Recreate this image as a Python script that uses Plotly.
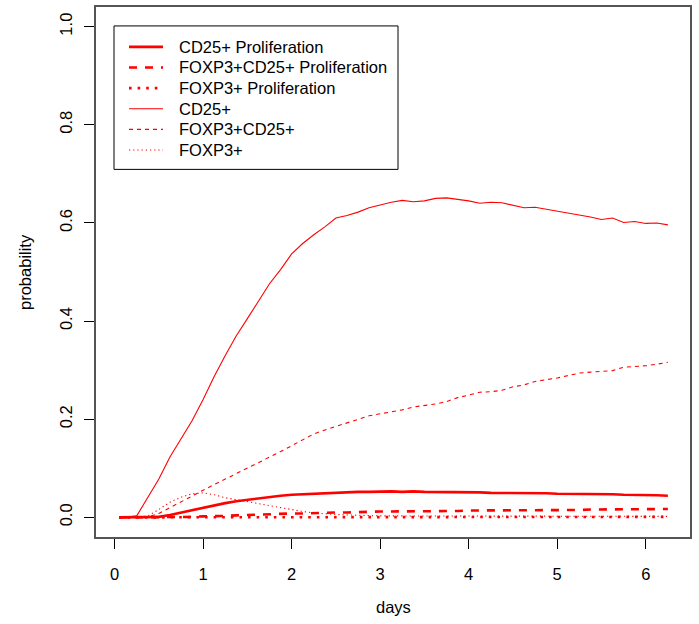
import plotly.graph_objects as go

days = [0.05, 0.125, 0.25, 0.375, 0.5, 0.625, 0.75, 0.875, 1.0, 1.125, 1.25, 1.375, 1.5,
        1.625, 1.75, 1.875, 2.0, 2.125, 2.25, 2.375, 2.5, 2.625, 2.75, 2.875, 3.0,
        3.125, 3.25, 3.375, 3.5, 3.625, 3.75, 3.875, 4.0, 4.125, 4.25, 4.375, 4.5,
        4.625, 4.75, 4.875, 5.0, 5.125, 5.25, 5.375, 5.5, 5.625, 5.75, 5.875, 6.0,
        6.125, 6.25]

cd25_prolif = [0, 0, 0, 0, 0.001, 0.005, 0.010, 0.015, 0.020, 0.024, 0.029, 0.033, 0.036,
               0.039, 0.041, 0.044, 0.046, 0.047, 0.048, 0.049, 0.051, 0.051, 0.052, 0.052, 0.053,
               0.053, 0.052, 0.053, 0.052, 0.052, 0.052, 0.051, 0.052, 0.051, 0.050, 0.050, 0.050,
               0.049, 0.049, 0.049, 0.048, 0.048, 0.047, 0.047, 0.047, 0.047, 0.046, 0.046, 0.046,
               0.045, 0.044]

foxp3cd25_prolif = [0, 0, 0, 0, 0, 0, 0.001, 0.001, 0.002, 0.002, 0.003, 0.004, 0.005,
                    0.006, 0.006, 0.007, 0.008, 0.008, 0.009, 0.009, 0.010, 0.010, 0.011, 0.011, 0.012,
                    0.012, 0.012, 0.012, 0.013, 0.013, 0.013, 0.013, 0.014, 0.014, 0.014, 0.014, 0.014,
                    0.015, 0.015, 0.015, 0.015, 0.015, 0.015, 0.016, 0.016, 0.016, 0.016, 0.016, 0.016,
                    0.017, 0.017]

foxp3_prolif = [0, 0, 0, 0, 0, 0, 0, 0, 0.001, 0.001, 0.001, 0.001, 0.001,
                0.001, 0.001, 0.001, 0.001, 0.001, 0.001, 0.001, 0.001, 0.001, 0.001, 0.001, 0.001,
                0.001, 0.001, 0.001, 0.001, 0.001, 0.001, 0.001, 0.001, 0.001, 0.001, 0.001, 0.001,
                0.001, 0.001, 0.001, 0.001, 0.001, 0.001, 0.001, 0.001, 0.001, 0.001, 0.001, 0.001,
                0.001, 0.001]

cd25 = [0, 0, 0.003, 0.040, 0.078, 0.123, 0.160, 0.197, 0.240, 0.287, 0.330, 0.370, 0.405,
        0.440, 0.476, 0.505, 0.537, 0.558, 0.576, 0.592, 0.610, 0.615, 0.622, 0.631, 0.637,
        0.642, 0.646, 0.643, 0.645, 0.650, 0.651, 0.648, 0.645, 0.640, 0.642, 0.641, 0.636,
        0.631, 0.632, 0.628, 0.625, 0.620, 0.617, 0.612, 0.607, 0.610, 0.601, 0.603, 0.599,
        0.600, 0.596]

foxp3cd25 = [0, 0, 0, 0.001, 0.008, 0.020, 0.032, 0.044, 0.055, 0.067, 0.078, 0.089, 0.100,
             0.112, 0.122, 0.134, 0.146, 0.158, 0.170, 0.178, 0.185, 0.192, 0.200, 0.207, 0.211,
             0.215, 0.219, 0.225, 0.228, 0.231, 0.236, 0.244, 0.249, 0.255, 0.256, 0.259, 0.266,
             0.270, 0.277, 0.280, 0.284, 0.289, 0.294, 0.296, 0.297, 0.299, 0.306, 0.307, 0.309,
             0.312, 0.316]

foxp3 = [0, 0, 0, 0.003, 0.016, 0.031, 0.041, 0.048, 0.050, 0.046, 0.040, 0.036, 0.032,
         0.028, 0.024, 0.019, 0.015, 0.012, 0.009, 0.007, 0.006, 0.005, 0.004, 0.004, 0.003,
         0.003, 0.003, 0.003, 0.003, 0.003, 0.002, 0.003, 0.002, 0.002, 0.002, 0.002, 0.002,
         0.002, 0.002, 0.002, 0.002, 0.002, 0.002, 0.002, 0.002, 0.002, 0.002, 0.002, 0.002,
         0.002, 0.002]

x_ticks = [0, 1, 2, 3, 4, 5, 6]
y_ticks = [0.0, 0.2, 0.4, 0.6, 0.8, 1.0]
y_tick_text = ["0.0", "0.2", "0.4", "0.6", "0.8", "1.0"]

series_names = ["CD25+ Proliferation", "FOXP3+CD25+ Proliferation", "FOXP3+ Proliferation",
                "CD25+", "FOXP3+CD25+", "FOXP3+"]
series_values = [cd25_prolif, foxp3cd25_prolif, foxp3_prolif, cd25, foxp3cd25, foxp3]
series_widths = [2.6, 2.6, 2.6, 1.1, 1.1, 1.1]
series_dashes = ["solid", "8px,8px", "2.6px,6px", "solid", "4px,4px", "1.2px,3px"]

RED = "#FF0000"
FONT = "Liberation Sans, Arial, sans-serif"
FS = 16.5

# plot area in pixels (matches R device layout)
W, H = 699, 624
L, R, T, B = 96, 9, 5, 87
PW, PH = W - L - R, H - T - B


def px(x):
    return (x - L) / PW


def py(y):
    return (H - B - y) / PH


fig = go.Figure()
for name, vals, w, dash in zip(series_names, series_values, series_widths, series_dashes):
    fig.add_trace(go.Scatter(x=days, y=vals, mode="lines", name=name,
                             line=dict(color=RED, width=w, dash=dash)))

# legend drawn R-style: bordered box, sample lines, labels
shapes = [dict(type="rect", xref="paper", yref="paper",
               x0=px(114), x1=px(398), y0=py(168), y1=py(24),
               line=dict(color="black", width=1), fillcolor="white", layer="above")]
annotations = []
row0, row_gap = 45.0, 20.7
for i, (name, w, dash) in enumerate(zip(series_names, series_widths, series_dashes)):
    yy = py(row0 + i * row_gap)
    shapes.append(dict(type="line", xref="paper", yref="paper",
                       x0=px(129), x1=px(163), y0=yy, y1=yy,
                       line=dict(color=RED, width=w, dash=dash), layer="above"))
    annotations.append(dict(text=name, x=px(177), y=yy, xref="paper", yref="paper",
                            showarrow=False, xanchor="left", yanchor="middle",
                            font=dict(size=FS, family=FONT, color="black")))

annotations += [
    dict(text="days", x=0.5, y=py(607), xref="paper", yref="paper",
         showarrow=False, xanchor="center", yanchor="middle", font=dict(size=FS)),
    dict(text="probability", x=px(25), y=0.5, xref="paper", yref="paper",
         showarrow=False, xanchor="center", yanchor="middle", textangle=-90,
         font=dict(size=FS)),
]

fig.update_layout(
    width=W, height=H,
    margin=dict(l=L, r=R, t=T, b=B),
    plot_bgcolor="white", paper_bgcolor="white",
    font=dict(family=FONT, size=FS, color="black"),
    showlegend=False,
    xaxis=dict(range=[-0.21, 6.50], tickvals=x_ticks, ticks="outside", ticklen=10,
               tickcolor="black", showgrid=False, zeroline=False, showline=True,
               mirror=True, linecolor="#555555", linewidth=1.5,
               ticklabelstandoff=11, tickfont=dict(size=FS)),
    yaxis=dict(range=[-0.04, 1.04], tickvals=y_ticks, ticktext=y_tick_text,
               ticks="outside", ticklen=10, tickangle=-90,
               tickcolor="black", showgrid=False, zeroline=False, showline=True,
               mirror=True, linecolor="#555555", linewidth=1.5,
               ticklabelstandoff=6, tickfont=dict(size=FS)),
    shapes=shapes,
    annotations=annotations,
)

fig.write_html("out.html", config={"displayModeBar": False},
               post_script="document.body.style.margin='0';")
